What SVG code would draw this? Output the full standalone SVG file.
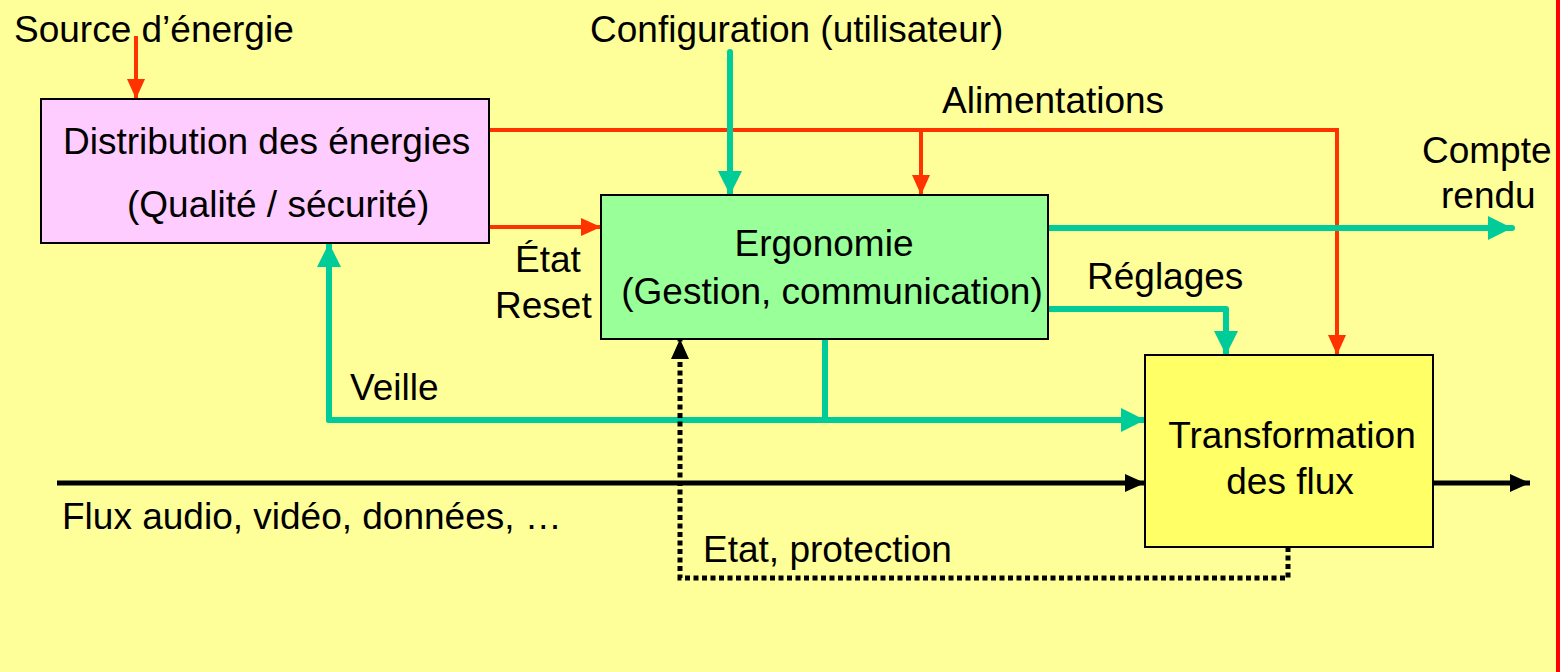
<svg xmlns="http://www.w3.org/2000/svg" width="1560" height="672" viewBox="0 0 1560 672">
<style>
text{font-family:"Liberation Sans",Arial,sans-serif;font-size:37px;fill:#000}
.box{stroke:#000;stroke-width:2}
.red{stroke:#FF3300;stroke-width:4;fill:none}
.teal{stroke:#00CC99;stroke-width:6;fill:none;stroke-linejoin:round;stroke-linecap:round}
.blk{stroke:#000;stroke-width:5;fill:none}
.dot{stroke:#000;stroke-width:5;fill:none;stroke-dasharray:5 3.5}
</style>
<defs>
<marker id="ar" markerUnits="userSpaceOnUse" markerWidth="20" markerHeight="18" refX="20" refY="9" orient="auto"><path d="M0,0 L20,9 L0,18 Z" fill="#FF3300"/></marker>
<marker id="at" markerUnits="userSpaceOnUse" markerWidth="24" markerHeight="24" refX="24" refY="12" orient="auto"><path d="M0,0 L24,12 L0,24 Z" fill="#00CC99"/></marker>
<marker id="ab" markerUnits="userSpaceOnUse" markerWidth="20" markerHeight="18" refX="20" refY="9" orient="auto"><path d="M0,0 L20,9 L0,18 Z" fill="#000"/></marker>
</defs>
<rect x="0" y="0" width="1560" height="672" fill="#FFFF99"/>
<rect x="1556" y="0" width="4" height="672" fill="#FF0000"/>
<g id="connectors">
<line class="red" x1="136" y1="36" x2="136" y2="99" marker-end="url(#ar)"/>
<path class="red" d="M489,130 H1337 V355" marker-end="url(#ar)"/>
<line class="red" x1="921" y1="130" x2="921" y2="195" marker-end="url(#ar)"/>
<line class="red" x1="489" y1="227" x2="601" y2="227" marker-end="url(#ar)"/>
<line class="teal" x1="730" y1="52" x2="730" y2="195" marker-end="url(#at)"/>
<line class="teal" x1="1048" y1="228" x2="1512" y2="228" marker-end="url(#at)"/>
<path class="teal" d="M1048,309 H1226 V355" marker-end="url(#at)"/>
<path class="teal" d="M825,339 V420"/>
<path class="teal" d="M329,420 H1145" marker-end="url(#at)"/>
<path class="teal" d="M329,420 V243" marker-end="url(#at)"/>
<line class="blk" x1="57" y1="483" x2="1145" y2="483" marker-end="url(#ab)"/>
<line class="blk" x1="1433" y1="483" x2="1530" y2="483" marker-end="url(#ab)"/>
<path class="dot" d="M1288,547 V578 H680 V339" marker-end="url(#ab)"/>
</g>
<g id="distribution">
<rect class="box" x="41" y="99" width="448" height="144" fill="#FFCCFF"/>
<text x="63" y="154">Distribution des énergies</text>
<text x="127" y="217">(Qualité / sécurité)</text>
</g>
<g id="ergonomie">
<rect class="box" x="601" y="195" width="447" height="144" fill="#99FF99"/>
<text x="824" y="256" text-anchor="middle">Ergonomie</text>
<text x="832" y="304" text-anchor="middle">(Gestion, communication)</text>
</g>
<g id="transformation">
<rect class="box" x="1145" y="355" width="288" height="192" fill="#FFFF66"/>
<text x="1292" y="448" text-anchor="middle">Transformation</text>
<text x="1290" y="494" text-anchor="middle">des flux</text>
</g>
<g id="labels">
<text x="14" y="42">Source d’énergie</text>
<text x="590" y="42">Configuration (utilisateur)</text>
<text x="942" y="113">Alimentations</text>
<text x="1422" y="163">Compte</text>
<text x="1441" y="208">rendu</text>
<text x="515" y="272">État</text>
<text x="495" y="318">Reset</text>
<text x="1087" y="289">Réglages</text>
<text x="350" y="400">Veille</text>
<text x="62" y="529">Flux audio, vidéo, données, …</text>
<text x="703" y="562">Etat, protection</text>
</g>
</svg>
